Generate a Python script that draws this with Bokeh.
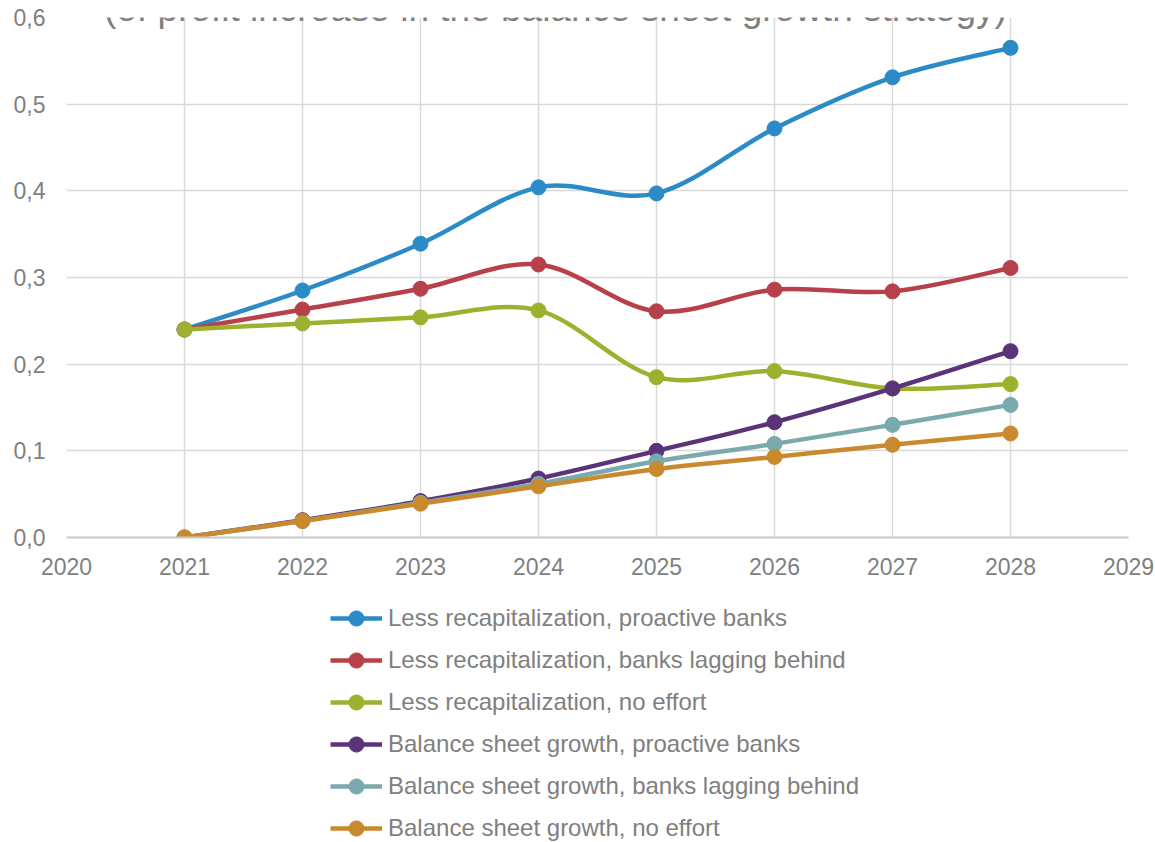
from bokeh.plotting import figure
from bokeh.layouts import column
from bokeh.models import (FixedTicker, CustomJSTickFormatter, Legend, LegendItem,
                          Label, ColumnDataSource, Range1d)
from bokeh.embed import file_html
from bokeh.resources import INLINE

# ---- data ----
years = [2021, 2022, 2023, 2024, 2025, 2026, 2027, 2028]
series_names = [
    "Less recapitalization, proactive banks",
    "Less recapitalization, banks lagging behind",
    "Less recapitalization, no effort",
    "Balance sheet growth, proactive banks",
    "Balance sheet growth, banks lagging behind",
    "Balance sheet growth, no effort",
]
less_recap_proactive = [0.240, 0.285, 0.339, 0.404, 0.397, 0.472, 0.531, 0.565]
less_recap_lagging = [0.240, 0.263, 0.287, 0.315, 0.261, 0.286, 0.284, 0.311]
less_recap_no_effort = [0.240, 0.247, 0.254, 0.262, 0.185, 0.192, 0.172, 0.177]
bs_growth_proactive = [0.000, 0.020, 0.042, 0.068, 0.100, 0.133, 0.172, 0.215]
bs_growth_lagging = [0.000, 0.019, 0.040, 0.062, 0.088, 0.108, 0.130, 0.153]
bs_growth_no_effort = [0.000, 0.019, 0.039, 0.059, 0.079, 0.093, 0.107, 0.120]
x_ticks = [2020, 2021, 2022, 2023, 2024, 2025, 2026, 2027, 2028, 2029]
y_ticks = [0.0, 0.1, 0.2, 0.3, 0.4, 0.5, 0.6]
title_text = "(of profit increase in the balance sheet growth strategy)"

all_series = [less_recap_proactive, less_recap_lagging, less_recap_no_effort,
              bs_growth_proactive, bs_growth_lagging, bs_growth_no_effort]
colors = ["#2a8bc7", "#b8404a", "#9db12e", "#5b3378", "#7aaaad", "#c98a2e"]

TEXT = "#808080"
GRID = "#d9d9d9"
FONT = "Liberation Sans"
LW = 4.5
MS = 15

p = figure(frame_width=1062, frame_height=520, output_backend="svg",
           toolbar_location=None,
           x_range=Range1d(2020, 2029), y_range=Range1d(0, 0.6),
           min_border_left=66, min_border_right=27, min_border_top=17,
           min_border_bottom=63)
p.outline_line_color = None
p.background_fill_color = "white"
p.border_fill_color = "white"

p.xaxis.ticker = FixedTicker(ticks=x_ticks)
p.yaxis.ticker = FixedTicker(ticks=y_ticks)
p.yaxis.formatter = CustomJSTickFormatter(code="return tick.toFixed(1).replace('.', ',');")
p.xaxis.formatter = CustomJSTickFormatter(code="return tick.toFixed(0);")
for ax in (p.xaxis, p.yaxis):
    ax.major_tick_line_color = None
    ax.minor_tick_line_color = None
    ax.major_label_text_color = TEXT
    ax.major_label_text_font = FONT
    ax.major_label_text_font_size = "23px"
p.yaxis.axis_line_color = None
p.xaxis.axis_line_color = "#c8c8c8"
p.xaxis.axis_line_width = 2
p.yaxis.major_label_standoff = 15
p.xaxis.major_label_standoff = 14
p.xgrid.grid_line_color = GRID
p.ygrid.grid_line_color = GRID
p.xgrid.grid_line_width = 1.5
p.ygrid.grid_line_width = 1.5


def smooth_segments(xs, ys):
    n = len(xs)
    d = dict(x0=[], y0=[], x1=[], y1=[], cx0=[], cy0=[], cx1=[], cy1=[])
    for i in range(n - 1):
        a = i - 1 if i > 0 else i
        b = i + 2 if i + 2 < n else i + 1
        d["x0"].append(xs[i]); d["y0"].append(ys[i])
        d["x1"].append(xs[i + 1]); d["y1"].append(ys[i + 1])
        d["cx0"].append(xs[i] + (xs[i + 1] - xs[a]) / 6.0)
        d["cy0"].append(ys[i] + (ys[i + 1] - ys[a]) / 6.0)
        d["cx1"].append(xs[i + 1] - (xs[b] - xs[i]) / 6.0)
        d["cy1"].append(ys[i + 1] - (ys[b] - ys[i]) / 6.0)
    return ColumnDataSource(d)


# legend strip below the chart
p2 = figure(width=1155, height=242, output_backend="svg", toolbar_location=None,
            x_axis_type=None, y_axis_type=None,
            x_range=Range1d(2020, 2029), y_range=Range1d(0, 0.6),
            min_border_left=0, min_border_right=0, min_border_top=0,
            min_border_bottom=0)
p2.outline_line_color = None
p2.xgrid.visible = False
p2.ygrid.visible = False
p2.border_fill_color = "white"

items = []
for name, ys, c in zip(series_names, all_series, colors):
    src = smooth_segments(years, ys)
    p.bezier(x0="x0", y0="y0", x1="x1", y1="y1", cx0="cx0", cy0="cy0",
             cx1="cx1", cy1="cy1", source=src, line_color=c, line_width=LW)
    p.scatter(x=years, y=ys, size=MS, marker="circle", fill_color=c,
              line_color=c)
    # legend proxies (hidden) in the legend strip
    lr = p2.line(x=years, y=ys, line_color=c, line_width=LW, visible=False)
    sr = p2.scatter(x=years, y=ys, size=MS, marker="circle", fill_color=c,
                    line_color=c, visible=False)
    items.append(LegendItem(label=name, renderers=[lr, sr]))

legend = Legend(items=items, location=(264, -5), orientation="vertical",
                padding=0, margin=0, border_line_color=None,
                background_fill_alpha=0, glyph_width=52, glyph_height=38,
                label_height=28, label_standoff=6, spacing=4,
                label_text_font=FONT, label_text_font_size="24px",
                label_text_color=TEXT)
p2.add_layout(legend, "center")

p.add_layout(Label(x=489, y=529, x_units="screen", y_units="screen",
                   text=title_text, text_align="center",
                   text_baseline="alphabetic", text_font=FONT,
                   text_font_size="37px", text_color=TEXT))

layout = column(p, p2, spacing=0)
open("out.html", "w").write(file_html(layout, INLINE))
